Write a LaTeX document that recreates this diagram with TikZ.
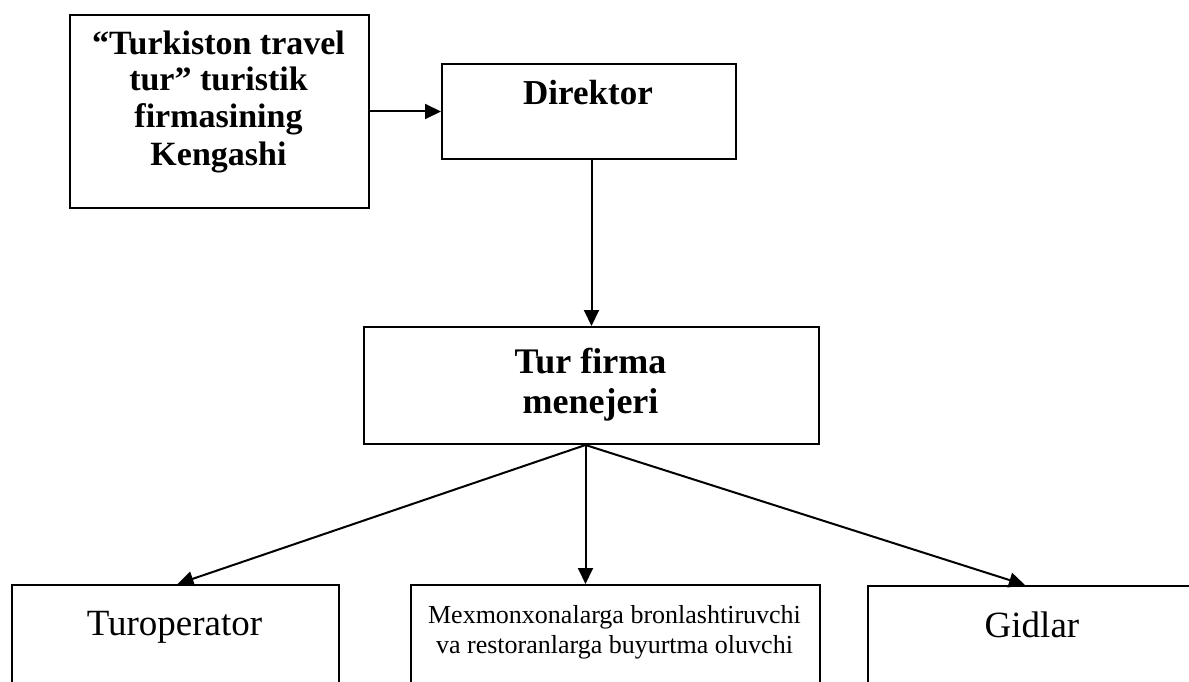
\documentclass[tikz,border=0pt]{standalone}
\usepackage{fontspec}
\setmainfont{Liberation Serif}
\usetikzlibrary{arrows.meta}
\begin{document}
\begin{tikzpicture}[x=1pt,y=-1pt,
  box/.style={draw,line width=2pt,inner sep=0pt,anchor=north west},
  txt/.style={inner sep=0pt,anchor=base,align=center},
  arr/.style={line width=2pt,-{Triangle[length=16pt,width=15pt]}}]
\useasboundingbox (0,0) rectangle (1189,682);
\clip (0,0) rectangle (1189,682);
% boxes
\node[box,minimum width=299pt,minimum height=193pt] (k) at (69,14) {};
\node[box,minimum width=294pt,minimum height=95pt] (d) at (441,63) {};
\node[box,minimum width=455pt,minimum height=117pt] (m) at (363,326) {};
\node[box,minimum width=327pt,minimum height=130pt] (t) at (11,584) {};
\node[box,minimum width=409pt,minimum height=130pt] (h) at (410,584) {};
\node[box,minimum width=330pt,minimum height=130pt] (g) at (867,585) {};
% texts (base = baseline of the last line)
\node[txt,font=\fontsize{34}{37}\selectfont\bfseries] (kt) at (218.5,165)
  {“Turkiston travel\\tur” turistik\\firmasining\\Kengashi};
\node[txt,font=\fontsize{35}{40}\selectfont\bfseries] (dt) at (588,105) {Direktor};
\node[txt,font=\fontsize{36}{40}\selectfont\bfseries] (mt) at (590.5,413) {Tur firma\\menejeri};
\node[txt,font=\fontsize{37}{40}\selectfont] (tt) at (174.5,635) {Turoperator};
\node[txt,font=\fontsize{26}{30}\selectfont] (ht) at (614.5,653)
  {Mexmonxonalarga bronlashtiruvchi\\va restoranlarga buyurtma oluvchi};
\node[txt,font=\fontsize{37}{40}\selectfont] (gt) at (1032,637) {Gidlar};
% connectors
\coordinate (o) at ([xshift=-6pt]m.south);
\draw[arr] (k.east) -- (d.west);
\draw[arr] (m.north |- d.south) -- (m.north);
\draw[arr] (o) -- ([xshift=2pt]t.north);
\draw[arr] (o) -- (o |- h.north);
\draw[arr] (o) -- ([xshift=-8pt]g.north);
\end{tikzpicture}
\end{document}
